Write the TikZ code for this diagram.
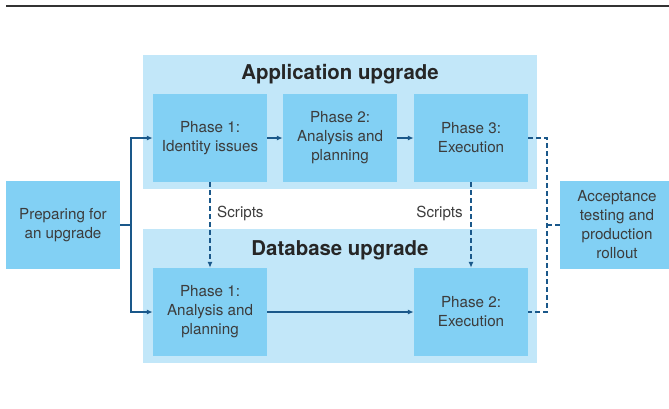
\documentclass[tikz,border=0pt]{standalone}
\usepackage{fontspec}
\setmainfont{TeX Gyre Heros}
\usetikzlibrary{arrows.meta}
\definecolor{outerblue}{RGB}{194,231,249}
\definecolor{innerblue}{RGB}{130,208,244}
\definecolor{linkblue}{RGB}{26,88,138}
\definecolor{textgray}{RGB}{60,60,60}
\begin{document}
\begin{tikzpicture}[x=1pt, y=-1pt,
  stage/.style={fill=innerblue, text=textgray, minimum width=114pt, minimum height=88pt, inner sep=0pt, align=center, font=\fontsize{15.2}{19}\selectfont},
  group/.style={fill=outerblue, minimum width=394pt, minimum height=134pt, inner sep=0pt},
  title/.style={font=\fontsize{20.4}{24}\selectfont\bfseries, text=black!85},
  note/.style={text=textgray, inner sep=0pt, font=\fontsize{15.2}{19}\selectfont},
  wire/.style={linkblue, line width=1.4pt},
  arrow/.style={wire, -{Latex[length=6pt,width=5pt]}},
  script/.style={arrow, dash pattern=on 4.5pt off 3.5pt},
  handover/.style={wire, dash pattern=on 4.5pt off 3.5pt}]
       \useasboundingbox (0,0) rectangle (669,408);
       \draw[line width=1.8pt, black!80] (6,6) -- (669,6);

       \node[group] (app) at (340,122) {};
       \node[group] (db) at (340,296) {};
       \node[title] (apptitle) at (340,74) {Application upgrade};
       \node[title] (dbtitle) at (340,250) {Database upgrade};

       \node[stage] (prep) at (63,225) {Preparing for\\an upgrade};
       \node[stage] (ap1) at (210,138) {Phase 1:\\Identity issues};
       \node[stage] (ap2) at (340,138) {Phase 2:\\Analysis and\\planning};
       \node[stage] (ap3) at (471,138) {Phase 3:\\Execution};
       \node[stage] (dp1) at (210,312) {Phase 1:\\Analysis and\\planning};
       \node[stage] (dp2) at (471,312) {Phase 2:\\Execution};
       \node[stage] (accept) at (617,225) {Acceptance\\testing and\\production\\rollout};

       \coordinate (split) at (131,225);
       \coordinate (merge) at (547,225);

       \draw[wire] (prep) -- (split);
       \draw[arrow] (split) |- (ap1);
       \draw[arrow] (split) |- (dp1);
       \foreach \a/\b in {ap1/ap2, ap2/ap3, dp1/dp2}{\draw[arrow] (\a) -- (\b); }

       \draw[script] (ap1) -- (dp1);
       \draw[script] (ap3) -- (dp2);
       \node[note, anchor=west] (s1) at (217,213) {Scripts};
       \node[note, anchor=east] (s2) at (463,213) {Scripts};

       \draw[handover] (ap3) -| (merge) |- (dp2);
       \draw[handover] (merge) -- (accept);
     \end{tikzpicture}
\end{document}
